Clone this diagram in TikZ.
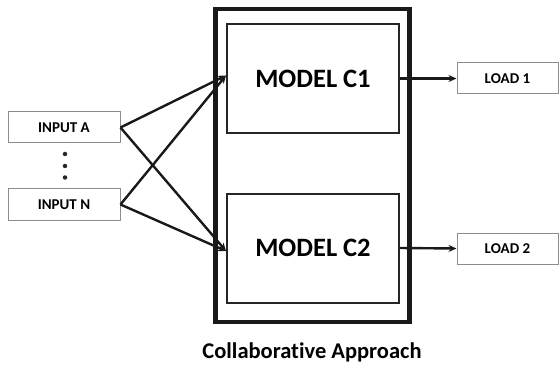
\documentclass[tikz,border=0pt]{standalone}
\usepackage{fontspec}
\setmainfont{Carlito}[Ligatures=NoCommon]
\usetikzlibrary{arrows.meta}
\begin{document}
\begin{tikzpicture}[x=1pt,y=-1pt,
  iobox/.style={draw=black!45,line width=1pt,minimum width=112pt,minimum height=31pt,
    inner sep=0pt,font=\bfseries\fontsize{15}{18}\selectfont},
  modelbox/.style={draw=black!85,line width=2pt,minimum width=172pt,minimum height=109pt,
    inner sep=0pt,font=\bfseries\fontsize{26.5}{30}\selectfont},
  link/.style={line width=2.4pt,black!90,-{Stealth[length=8pt,width=7pt]}},
  dot/.style={circle,fill=black!85,inner sep=0pt,minimum size=4.5pt}]
\useasboundingbox (0,0) rectangle (559,366);
% enclosing frame
\node[draw=black!90,line width=4.5pt,minimum width=194pt,minimum height=313pt,inner sep=0pt]
  (frame) at (312.5,165.5) {};
% models
\node[modelbox] (c1) at (313,78.5) {MODEL C1};
\node[modelbox] (c2) at (313,248) {MODEL C2};
% inputs
\node[iobox] (ia) at (64,127.5) {INPUT A};
\node[iobox] (in) at (64,204.5) {INPUT N};
\node[dot] (d1) at (65,154) {};
\node[dot] (d2) at (65,166) {};
\node[dot] (d3) at (65,177.5) {};
% loads
\node[iobox,minimum width=101pt] (l1) at (507.5,78.5) {LOAD 1};
\node[iobox,minimum width=101pt] (l2) at (507.5,248.5) {LOAD 2};
% connectors
\coordinate (c1in) at ([yshift=3pt]c1.west);
\coordinate (c2in) at ([yshift=-3pt]c2.west);
\draw[link] (ia.east) -- (c1in);
\draw[link] (ia.east) -- (c2in);
\draw[link] (in.east) -- (c1in);
\draw[link] (in.east) -- (c2in);
\draw[link] (c1.east) -- (l1.west);
\draw[link] (c2.east) -- (l2.west);
% caption
\node[font=\bfseries\fontsize{22.5}{27}\selectfont] (cap) at (312,352) {Collaborative Approach};
\end{tikzpicture}
\end{document}
